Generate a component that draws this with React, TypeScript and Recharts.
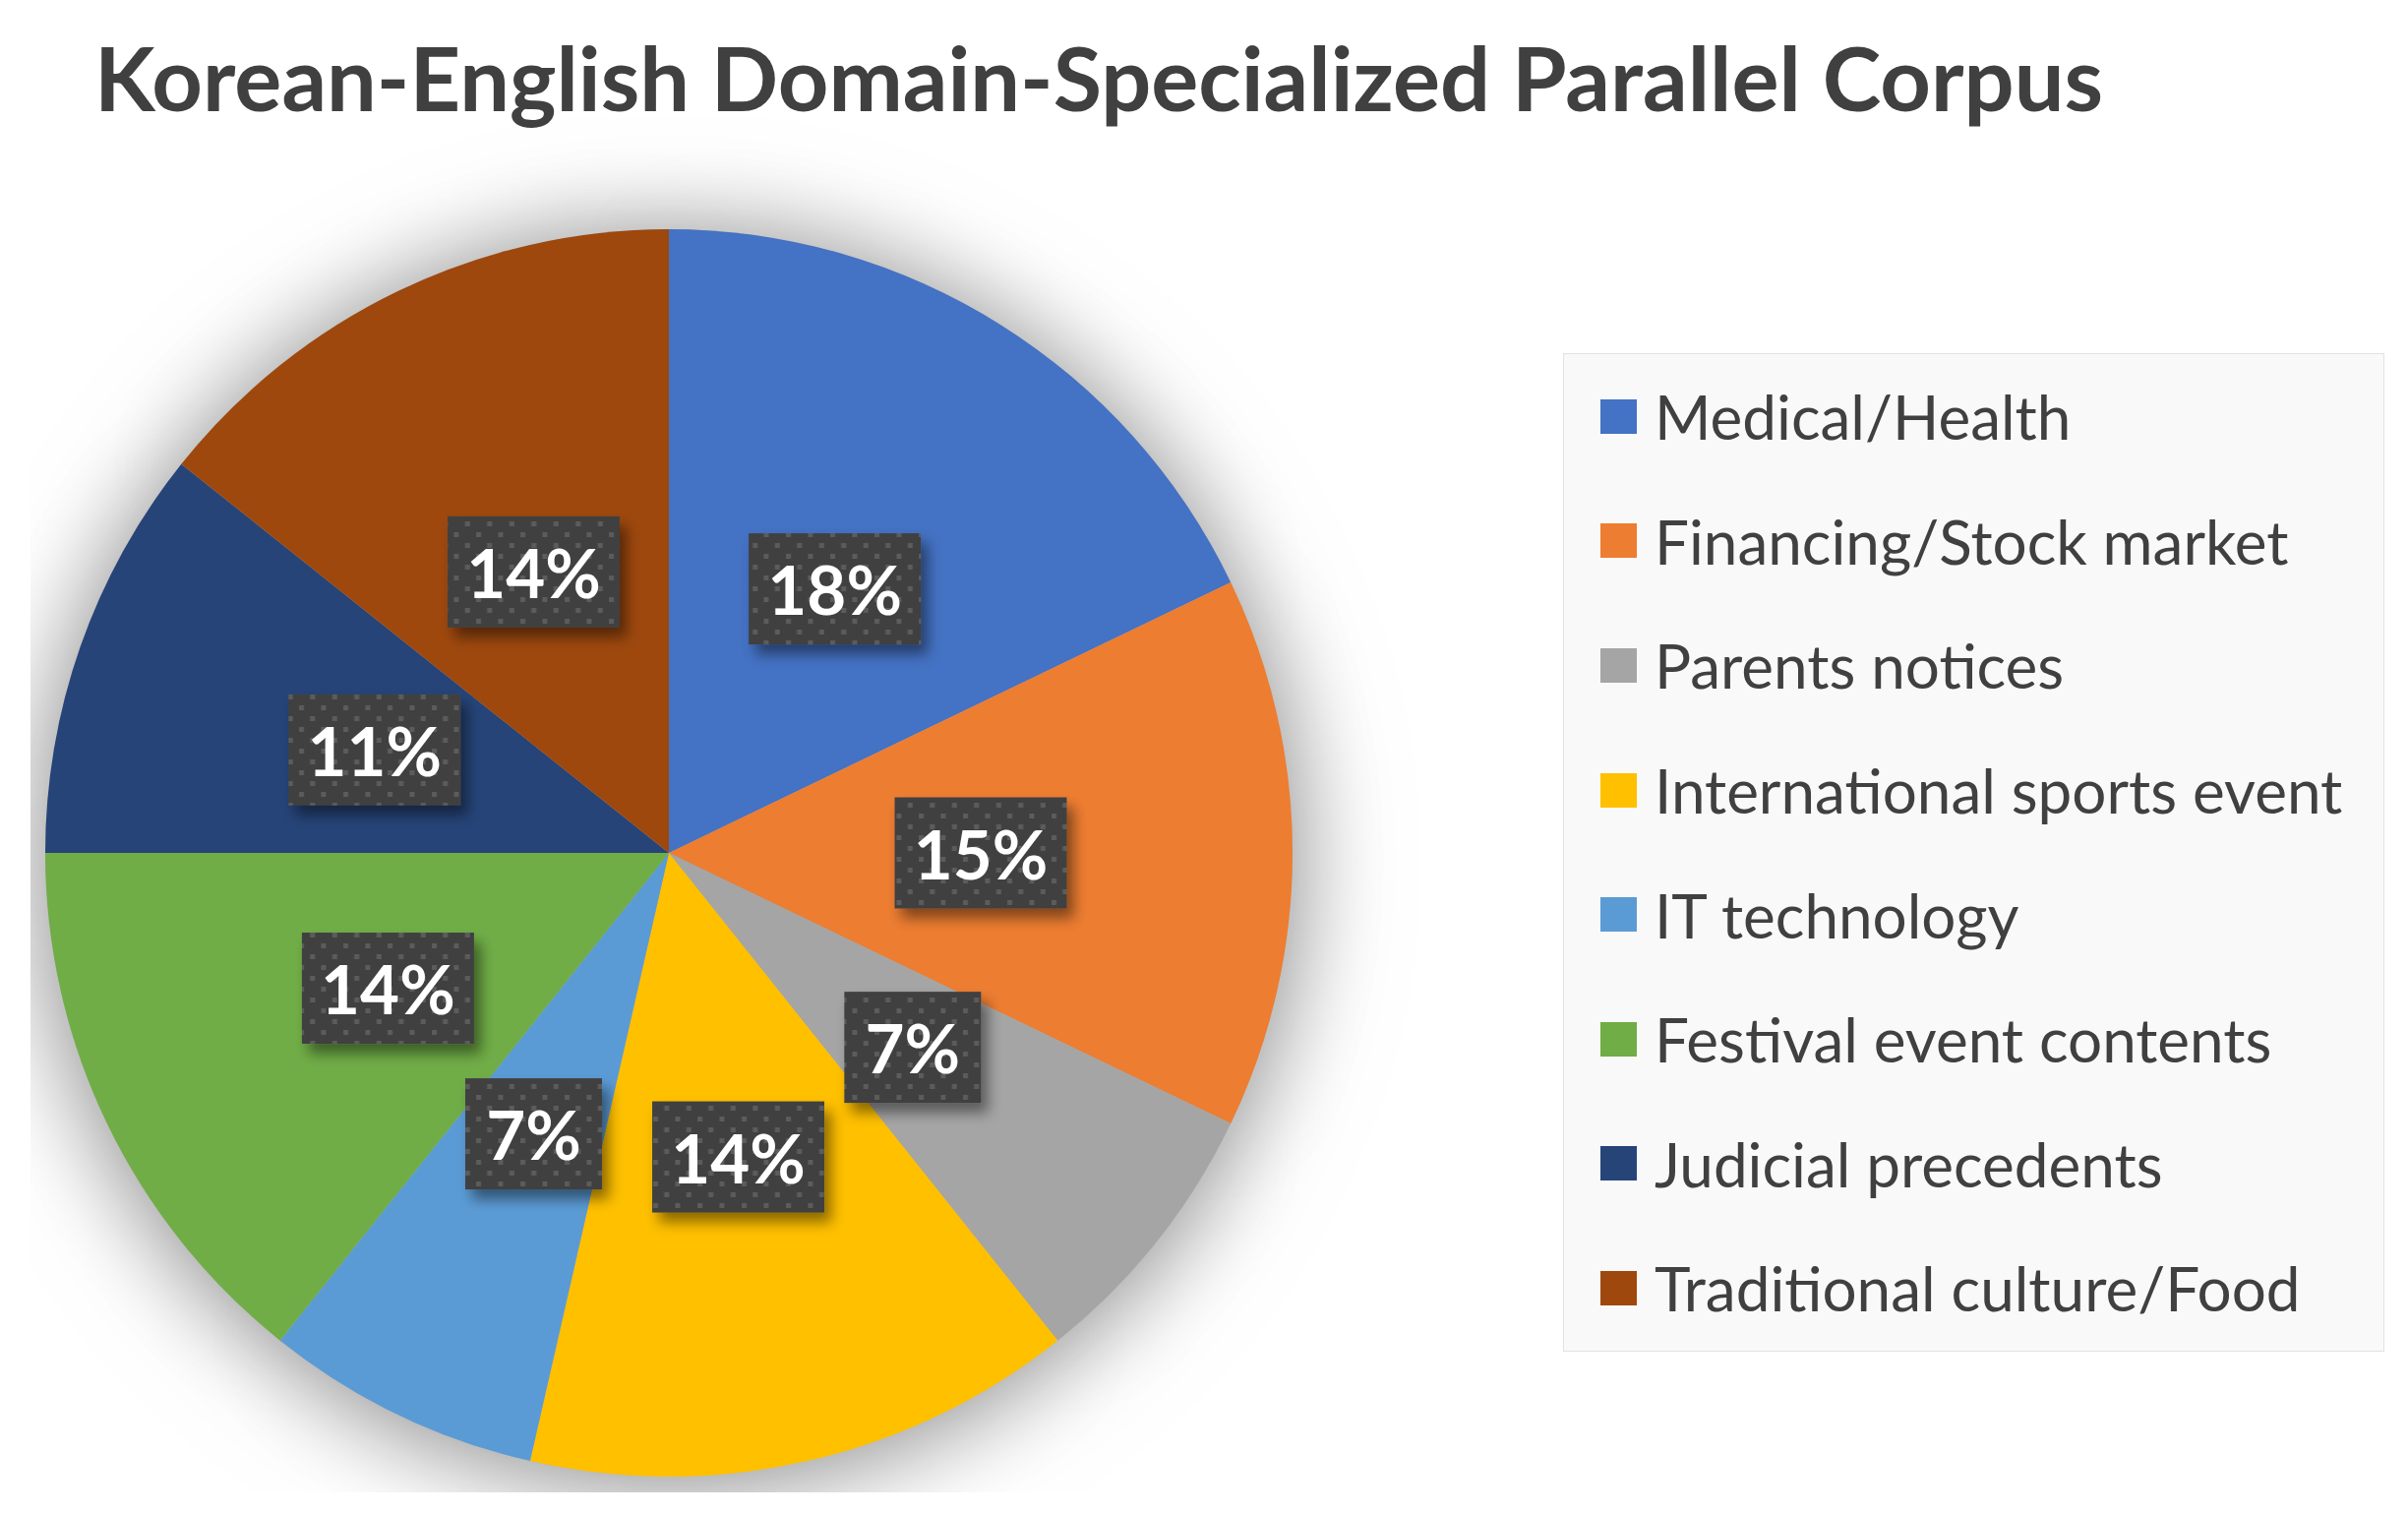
import { PieChart, Pie, Cell, Legend } from 'recharts'

const domains = [
  'Medical/Health',
  'Financing/Stock market',
  'Parents notices',
  'International sports event',
  'IT technology',
  'Festival event contents',
  'Judicial precedents',
  'Traditional culture/Food',
]
// sentence pairs, in units of 10k
const sentences = [25, 20, 10, 20, 10, 20, 15, 20]
// share labels as printed on the chart
const shareLabels = ['18%', '15%', '7%', '14%', '7%', '14%', '11%', '14%']
const colors = ['#4472C4', '#ED7D31', '#A5A5A5', '#FFC000', '#5B9BD5', '#70AD47', '#264478', '#9E480E']

const data = domains.map((name, i) => ({ name, value: sentences[i] }))

const RAD = Math.PI / 180
const textColor = '#404040'

function BoxLabel(props: any) {
  const { cx, cy, midAngle, outerRadius, index } = props
  const r = outerRadius * 0.5
  const x = cx + r * Math.cos(-midAngle * RAD)
  const y = cy + r * Math.sin(-midAngle * RAD)
  const text = shareLabels[index]
  const w = 67 + 36 * text.length
  const h = 113
  return (
    <g>
      <rect x={x - w / 2} y={y - h / 2} width={w} height={h} fill="url(#dots)" filter="url(#boxShadow)" />
      <text
        x={x}
        y={y}
        textAnchor="middle"
        dominantBaseline="central"
        fill="#fff"
        fontSize={69}
        fontWeight={700}
        fontFamily="Lato, sans-serif"
      >
        {text}
      </text>
    </g>
  )
}

function LegendBox() {
  return (
    <div
      style={{
        boxSizing: 'border-box',
        width: 835,
        height: 1015,
        background: '#f9f9f9',
        border: '1.5px solid #e2e2e2',
      }}
    >
      {domains.map((d, i) => (
        <div key={d} style={{ height: 126.6, display: 'flex', alignItems: 'center' }}>
          <span style={{ width: 37, height: 35, background: colors[i], marginLeft: 37, marginRight: 18, flex: 'none' }} />
          <span style={{ fontSize: 62, color: textColor, fontFamily: 'Lato, sans-serif', whiteSpace: 'nowrap' }}>{d}</span>
        </div>
      ))}
    </div>
  )
}

export default function App() {
  return (
    <div style={{ position: 'relative', width: 2448, height: 1538, background: '#fff', overflow: 'hidden' }}>
      <style>{`body{margin:0} .pie-shadow{filter:drop-shadow(0px 6px 50px rgba(0,0,0,0.26))}`}</style>
      <div
        style={{
          position: 'absolute',
          left: 96,
          top: 33,
          fontFamily: 'Lato, sans-serif',
          fontWeight: 700,
          fontSize: 90,
          lineHeight: '90px',
          color: textColor,
          whiteSpace: 'nowrap',
        }}
      >
        Korean-English Domain-Specialized Parallel Corpus
      </div>
      <div style={{ position: 'absolute', left: 31, top: 120 }}>
        <PieChart width={2417} height={1397} margin={{ top: 0, right: 0, bottom: 0, left: 0 }}>
          <defs>
            <pattern id="dots" width="22.5" height="22" patternUnits="userSpaceOnUse">
              <rect width="22.5" height="22" fill="#404040" />
              <rect x="3" y="3" width="5" height="5" fill="#5c5c5c" />
              <rect x="14.25" y="14" width="5" height="5" fill="#5c5c5c" />
            </pattern>
            <filter id="boxShadow" x="-20%" y="-20%" width="150%" height="170%">
              <feDropShadow dx="7" dy="10" stdDeviation="7" floodColor="#000" floodOpacity="0.45" />
            </filter>
          </defs>
          {/* shadow caster under the pie */}
          <Pie
            className="pie-shadow"
            data={data}
            dataKey="value"
            nameKey="name"
            cx={649}
            cy={747}
            outerRadius={634}
            startAngle={90}
            endAngle={-270}
            fill="#bbbbbb"
            stroke="none"
            label={false}
            labelLine={false}
            isAnimationActive={false}
          />
          <Pie
            data={data}
            dataKey="value"
            nameKey="name"
            cx={649}
            cy={747}
            outerRadius={634}
            startAngle={90}
            endAngle={-270}
            stroke="none"
            label={BoxLabel}
            labelLine={false}
            isAnimationActive={false}
          >
            {data.map((d, i) => (
              <Cell key={d.name} fill={colors[i]} />
            ))}
          </Pie>
          <Legend
            layout="vertical"
            align="right"
            verticalAlign="top"
            content={<LegendBox />}
            wrapperStyle={{ position: 'absolute', left: 1558, top: 239, width: 835, height: 1015 }}
          />
        </PieChart>
      </div>
    </div>
  )
}
